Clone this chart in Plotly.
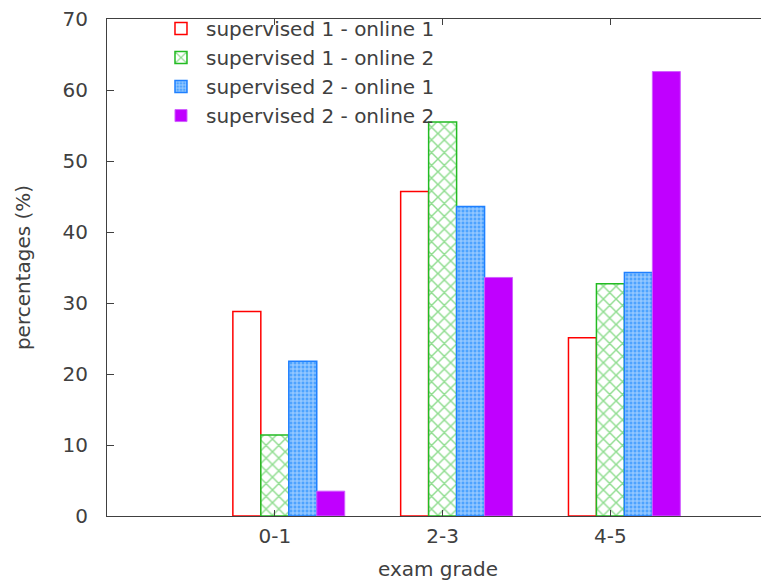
import plotly.graph_objects as go

categories = ["0-1", "2-3", "4-5"]
series_names = [
    "supervised 1 - online 1",
    "supervised 1 - online 2",
    "supervised 2 - online 1",
    "supervised 2 - online 2",
]
s1_o1 = [28.8, 45.7, 25.1]
s1_o2 = [11.4, 55.5, 32.7]
s2_o1 = [21.8, 43.6, 34.3]
s2_o2 = [3.5, 33.6, 62.6]
values = [s1_o1, s1_o2, s2_o1, s2_o2]

x_idx = list(range(len(categories)))
bar_w = 1 / 6

styles = [
    dict(color="white", line=dict(color="#ff0000", width=1.5), pattern=None),
    dict(color="white", line=dict(color="#22bb22", width=1.5),
         pattern=dict(shape="x", fgcolor="#22bb22", bgcolor="white", size=9, solidity=0.3)),
    dict(color="#4da3ff", line=dict(color="#1f80ff", width=1.5),
         pattern=dict(shape="+", fgcolor="white", bgcolor="#4da3ff", size=4, solidity=0.45)),
    dict(color="#c000ff", line=dict(color="#d060ff", width=1), pattern=None),
]

fig = go.Figure()
for k, (name, vals, st) in enumerate(zip(series_names, values, styles)):
    marker = dict(color=st["color"], line=st["line"])
    if st["pattern"] is not None:
        marker["pattern"] = st["pattern"]
    fig.add_trace(go.Bar(
        x=x_idx, y=vals, name=name,
        width=bar_w, offset=-0.25 + k * bar_w,
        marker=marker,
    ))

font_col = "#404040"
fig.update_layout(
    width=761, height=575,
    barmode="overlay",
    paper_bgcolor="white", plot_bgcolor="white",
    margin=dict(l=99, r=0, t=11, b=67),
    font=dict(family="DejaVu Sans", size=20, color=font_col),
    showlegend=True,
    legend=dict(x=0.074, y=1.02, xanchor="left", yanchor="top",
                bgcolor="rgba(0,0,0,0)", font=dict(size=20, color=font_col),
                itemwidth=40, tracegroupgap=0),
    xaxis=dict(
        range=[-1.0, 2.945],
        tickvals=x_idx, ticktext=categories,
        ticks="inside", ticklen=6, tickcolor="#404040",
        showline=True, linecolor="#404040", linewidth=1.2,
        mirror="ticks", showgrid=False, zeroline=False,
        tickfont=dict(size=20),
        title=dict(text="exam grade", standoff=14, font=dict(size=20)),
        ticklabelstandoff=2, automargin=False,
    ),
    yaxis=dict(
        range=[0, 70], dtick=10,
        ticks="inside", ticklen=7, tickcolor="#404040",
        showline=True, linecolor="#404040", linewidth=1.2,
        showgrid=False, zeroline=False,
        tickfont=dict(size=20),
        ticklabeloverflow="allow",
        title=dict(text="percentages (%)", standoff=26, font=dict(size=20)),
        ticklabelstandoff=14, automargin=False,
    ),
)

fig.write_html("out.html")
